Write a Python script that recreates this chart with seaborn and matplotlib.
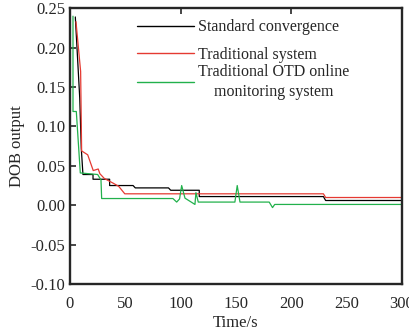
import numpy as np
import pandas as pd
import matplotlib
matplotlib.use("Agg")
import matplotlib.pyplot as plt
import seaborn as sns

# values
std_t = [4.8, 8.8, 10.2, 11.7, 20.8, 20.8, 35.8, 35.8, 57, 59, 89, 91, 116.8, 116.8, 229, 231, 300]
std_v = [0.239, 0.136, 0.072, 0.039, 0.039, 0.033, 0.033, 0.025, 0.025, 0.022, 0.022, 0.019, 0.019, 0.011, 0.011, 0.006, 0.006]

trad_t = [5.4, 9.6, 10.5, 16, 21, 25.5, 27, 31, 39, 44, 49.5, 229, 231, 300]
trad_v = [0.233, 0.170, 0.069, 0.064, 0.044, 0.046, 0.040, 0.034, 0.028, 0.024, 0.0145, 0.0145, 0.0098, 0.0098]

otd_t = [2.7, 2.7, 5.7, 9.3, 25, 28, 28.6, 93, 96.4, 99, 100.9, 103.9, 112.9, 113.8, 115.9,
         149, 151.1, 153.6, 180, 183, 185, 300]
otd_v = [0.240, 0.119, 0.119, 0.041, 0.039, 0.032, 0.0085, 0.0085, 0.004, 0.008, 0.025, 0.009, 0.001, 0.016, 0.004,
         0.004, 0.025, 0.004, 0.004, -0.003, 0.001, 0.001]

names = ["Standard convergence", "Traditional system", "Traditional OTD online\nmonitoring system"]
colors = ["black", "#e53a32", "#22b14c"]

df = pd.concat([
    pd.DataFrame({"t": std_t, "v": std_v, "s": names[0]}),
    pd.DataFrame({"t": trad_t, "v": trad_v, "s": names[1]}),
    pd.DataFrame({"t": otd_t, "v": otd_v, "s": names[2]}),
], ignore_index=True)

sns.set_style("ticks")
plt.rcParams["font.family"] = ["Liberation Serif", "DejaVu Serif"]
plt.rcParams["axes.unicode_minus"] = False

fig = plt.figure(figsize=(4.09, 3.33), dpi=100)
ax = fig.add_axes([70 / 409, 49 / 333, 332 / 409, 275.7 / 333])

sns.lineplot(data=df, x="t", y="v", hue="s", palette=dict(zip(names, colors)),
             estimator=None, sort=False, linewidth=0.9, ax=ax)

ax.set_xlim(0, 300)
ax.set_ylim(-0.10, 0.25)
ax.set_xticks(np.arange(0, 301, 50))
ax.set_yticks(np.arange(-0.10, 0.251, 0.05))
ax.yaxis.set_major_formatter(matplotlib.ticker.FormatStrFormatter("%.2f"))
ax.tick_params(axis="y", direction="in", length=4, width=1.2, labelsize=12)
ax.tick_params(axis="x", bottom=False, labelsize=12, pad=5)
for sp in ax.spines.values():
    sp.set_linewidth(1.7)
    sp.set_visible(True)

top = ax.secondary_xaxis("top")
top.set_xticks([100, 200])
top.tick_params(direction="in", length=4, width=1.2, labeltop=False)
top.spines["top"].set_visible(False)

ax.set_xlabel("Time/s", fontsize=12, labelpad=2)
ax.set_ylabel("DOB output", fontsize=12, labelpad=4)

# legend in two parts: the two-line entry sits closer to the one above it
handles, labels = ax.get_legend_handles_labels()
ax.get_legend().remove()
opts = dict(loc="upper left", frameon=False, fontsize=11.5, handlelength=3.55,
            handletextpad=0.25, borderaxespad=0.3)
leg1 = ax.legend(handles[:2], labels[:2], bbox_to_anchor=(0.168, 1.0), labelspacing=0.69, **opts)
ax.add_artist(leg1)
leg2 = ax.legend(handles[2:], labels[2:], bbox_to_anchor=(0.168, 0.84), **opts)
for leg in (leg1, leg2):
    for txt in leg.get_texts():
        txt.set_multialignment("center")
        txt.set_linespacing(1.35)
    for ln in leg.get_lines():
        ln.set_linewidth(1.0)

fig.savefig("out.png", dpi=100)
